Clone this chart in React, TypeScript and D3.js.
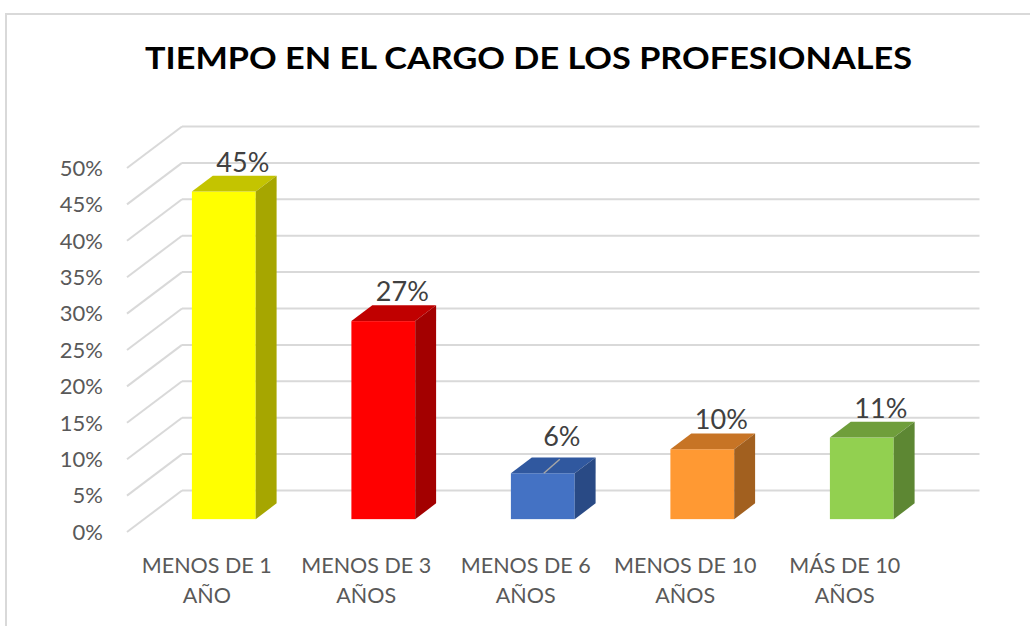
import React from "react";
import * as d3 from "d3";

const title = "TIEMPO EN EL CARGO DE LOS PROFESIONALES";
const categories = ["MENOS DE 1|AÑO", "MENOS DE 3|AÑOS", "MENOS DE 6|AÑOS", "MENOS DE 10|AÑOS", "MÁS DE 10|AÑOS"];
const values = [0.45, 0.272, 0.063, 0.096, 0.112];
const labels = ["45%", "27%", "6%", "10%", "11%"];
const frontColors = ["#FFFF00", "#FF0000", "#4472C4", "#FF9933", "#92D050"];
const topColors = ["#C4C400", "#C00000", "#30589F", "#C77425", "#6F9E3B"];
const sideColors = ["#A6A600", "#A30000", "#294A85", "#A2601F", "#5D8733"];
const ticks = [0, 0.05, 0.1, 0.15, 0.2, 0.25, 0.3, 0.35, 0.4, 0.45, 0.5];
const leaderIdx = [2];

const W = 1030, H = 626;
const FONT = "Lato, 'Open Sans', sans-serif";

export default function App() {
  const x0 = 127, x1 = 924.5;
  const DX = 55, DY = -41.5;
  const fd = 0.31, bd = 0.69;
  const x = d3.scaleBand<string>().domain(categories).range([x0, x1]).paddingInner(0.6).paddingOuter(0.3);
  const y = d3.scaleLinear().domain([0, 0.5]).range([532, 168]);
  const bw = x.bandwidth();
  const ddx = (bd - fd) * DX, ddy = (bd - fd) * DY;
  const pct = d3.format(".0%");

  return (
    <svg width={W} height={H} style={{ position: "absolute", left: 0, top: 0, background: "#fff" }}>
      <rect x={6} y={14} width={1200} height={800} fill="#fff" stroke="#D9D9D9" strokeWidth={2} />
      <text x={145} y={69} textLength={767} lengthAdjust="spacingAndGlyphs" fontFamily={FONT} fontWeight={700} fontSize={29.5} fill="#000">{title}</text>
      {ticks.map((t) => {
        const yf = y(t);
        return (
          <g key={t}>
            <line x1={x0} y1={yf} x2={x0 + DX} y2={yf + DY} stroke="#D9D9D9" strokeWidth={2} />
            <line x1={x0 + DX} y1={yf + DY} x2={x1 + DX} y2={yf + DY} stroke="#D9D9D9" strokeWidth={2} />
            <text x={103} y={yf} dy="0.35em" textAnchor="end" fontFamily={FONT} fontSize={22} fill="#595959">{pct(t)}</text>
          </g>
        );
      })}
      {categories.map((c, i) => {
        const xl = (x(c) as number) + fd * DX;
        const yt = y(values[i]) + fd * DY;
        const yb = y(0) + fd * DY;
        const xr = xl + bw;
        const lx = xl + bw / 2 + 19;
        const moved = leaderIdx.includes(i);
        const ly = yt - (moved ? 27 : 20);
        return (
          <g key={c}>
            <rect x={xl} y={yt} width={bw} height={yb - yt} fill={frontColors[i]} />
            <polygon points={`${xl},${yt} ${xr},${yt} ${xr + ddx},${yt + ddy} ${xl + ddx},${yt + ddy}`} fill={topColors[i]} />
            <polygon points={`${xr},${yt} ${xr + ddx},${yt + ddy} ${xr + ddx},${yb + ddy} ${xr},${yb}`} fill={sideColors[i]} />
            {moved && <line x1={xl + bw / 2 + 1} y1={yt} x2={lx - 2} y2={yt - 14} stroke="#A6A6A6" strokeWidth={1.5} />}
            <text x={lx} y={ly} textAnchor="middle" fontFamily={FONT} fontSize={27} fill="#404040">{labels[i]}</text>
          </g>
        );
      })}
      {categories.map((c) => {
        const cx = (x(c) as number) + bw / 2;
        const parts = c.split("|");
        return (
          <text key={c} textAnchor="middle" fontFamily={FONT} fontSize={21.5} fill="#595959">
            {parts.map((p, j) => (
              <tspan key={j} x={cx} y={573 + j * 30}>{p}</tspan>
            ))}
          </text>
        );
      })}
    </svg>
  );
}
